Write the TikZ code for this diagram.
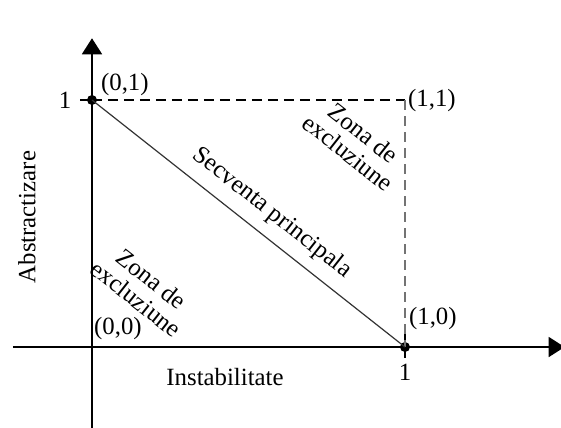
\documentclass[tikz,border=0pt]{standalone}
\usepackage{fontspec}
\setmainfont{Liberation Serif}
\usepackage{tikz}
\usetikzlibrary{
    arrows.meta,
    positioning,
    calc
}
\tikzset{
    axis/.style={
        line width=0.9pt,
        -{Triangle[length=8pt, width=10pt]}
    },
    dot/.style={
        circle,
        fill=black,
        inner sep=0pt,
        minimum size=5pt
    },
    guide/.style={
        line width=0.8pt,
        dash pattern=on 5pt off 3pt
    },
    diag/.style={
        line width=0.6pt,
        draw=black!80
    },
    lbl/.style={
        font=\fontsize{12.4}{14}\selectfont,
        inner sep=1pt
    },
    zone/.style={
        font=\fontsize{12.4}{12.5}\selectfont,
        align=center,
        inner sep=0pt,
        rotate=-38.3
    }
}
\begin{document}
\begin{tikzpicture}[x=156.5pt, y=123.5pt]
\useasboundingbox (-0.2939,-0.3239) rectangle (1.4984,1.4049);

\coordinate (O) at (0,0);
\coordinate (xs) at (-0.2524,0);
\coordinate (xe) at (1.51,0);
\coordinate (ys) at (0,-0.33);
\coordinate (ye) at (0,1.25);
\coordinate (P11) at (1,1);

% axes
\draw[axis] (xs) -- (xe);
\draw[axis] (ys) -- (ye);

% corner points
\node[dot] (P01) at (0,1) {};
\node[dot] (P10) at (1,0) {};

% ticks
\draw[line width=0.9pt] ($(P01)+(-0.038,0)$) -- (P01.center);
\draw[line width=1.4pt] ($(P10)+(0,0.057)$) -- ($(P10)+(0,-0.045)$);

% dashed border and main sequence
\draw[guide] (P01.center) -- (P11);
\draw[guide, draw=black!55] (P11) -- (P10.center);
\draw[diag] (P01.center) -- (P10.center);

% point labels
\node[lbl] (l01) at (0.105,1.061) {(0,1)};
\node[lbl] (l11) at (1.086,0.996) {(1,1)};
\node[lbl] (l10) at (1.089,0.117) {(1,0)};
\node[lbl] (l00) at (0.083,0.073) {(0,0)};
\node[lbl] (t01) at (-0.086,1) {1};
\node[lbl] (t10) at (1,-0.101) {1};

% axis names
\node[lbl] (xname) at (0.425,-0.121) {Instabilitate};
\node[lbl, rotate=90] (yname) at (-0.208,0.526) {Abstractizare};

% zones
\node[lbl, rotate=-38.3] (seq) at (0.575,0.543) {Secventa principala};
\node[zone] (zup) at (0.843,0.826) {Zona de\\excluziune};
\node[zone] (zlow) at (0.166,0.235) {Zona de\\excluziune};
\end{tikzpicture}
\end{document}
